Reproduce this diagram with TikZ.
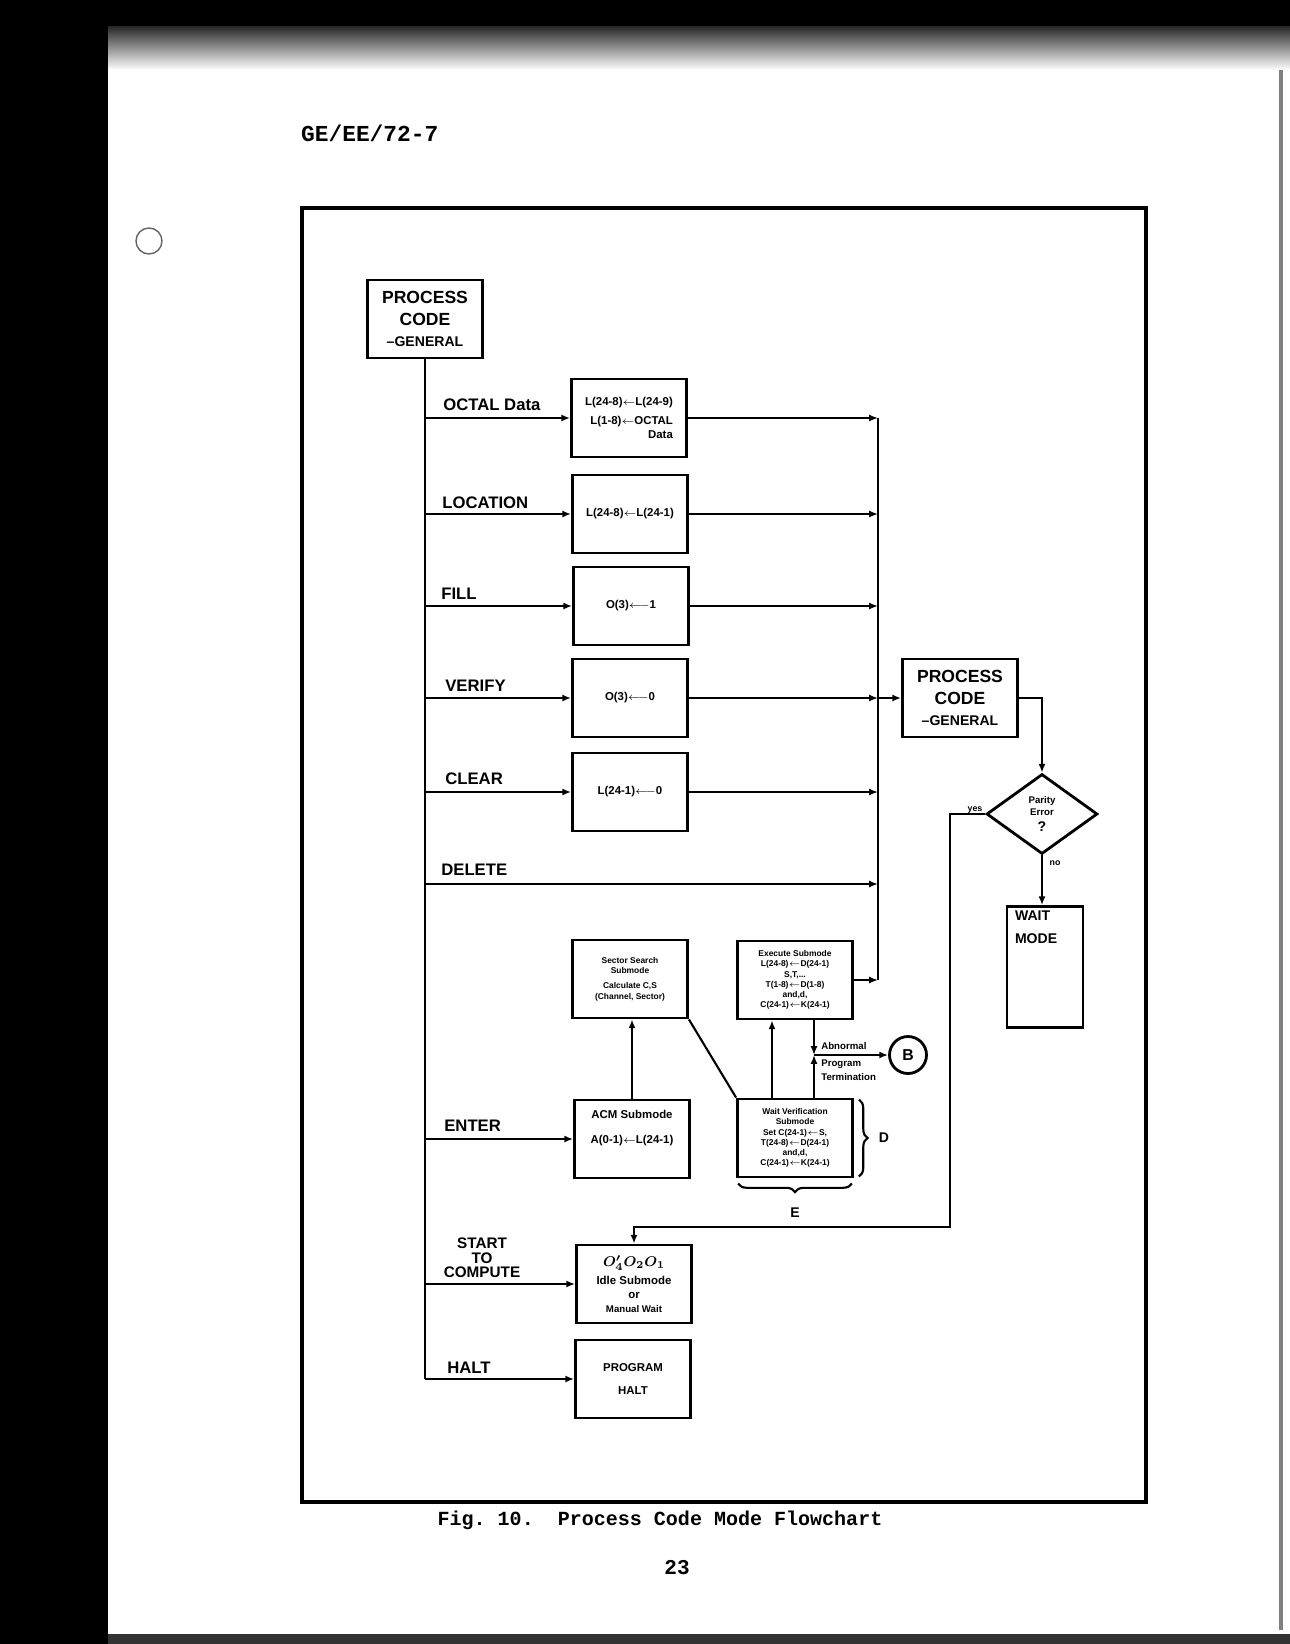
\documentclass[tikz,border=0pt]{standalone}
\usepackage{fontspec}
\setmainfont{Liberation Sans}
\setmonofont{Liberation Mono}
\usepackage{amsmath}
\usetikzlibrary{calc,positioning,shapes.geometric,arrows.meta,decorations.pathreplacing}

\begin{document}
\begin{tikzpicture}[x=0.02cm,y=-0.02cm,
    blk/.style={draw,line width=1.6pt,minimum width=2.3cm,minimum height=1.56cm,inner sep=1pt,align=center,font=\bfseries\fontsize{6.5}{8}\selectfont},
    tiny/.style={font=\bfseries\fontsize{4.8}{5.8}\selectfont},
    lnk/.style={line width=1.2pt},
    arr/.style={lnk,-{Latex[length=5pt,width=4pt]}},
    lbl/.style={anchor=base west,inner sep=0pt,font=\bfseries\fontsize{9.5}{11}\selectfont},
    brc/.style={lnk,decorate,decoration={brace,amplitude=5pt}}]
    \useasboundingbox (0,0) rectangle (1290,1644);
    % scanned page edges
    \fill[white] (0,0) rectangle (1290,1644);
    \shade[top color=black!85,bottom color=white] (108,26) rectangle (1290,70);
    \fill[black] (0,0) rectangle (1290,26);
    \fill[black] (0,0) rectangle (108,1644);
    \fill[black!80] (108,1634) rectangle (1290,1644);
    \draw[black!50,line width=2pt] (1281,70) -- (1281,1630);
    \draw[black!60,line width=0.8pt] (149,241) circle (13);
    % header, frame and caption
    \node[anchor=west,font=\ttfamily\bfseries\fontsize{13}{15}\selectfont] (hdr) at (295,133) {GE/EE/72-7};
    \draw[line width=1.8pt] (302,208) rectangle (1146,1502);
    \node[font=\ttfamily\bfseries\fontsize{11.4}{13}\selectfont] (cap) at (660,1520) {Fig.~10.\ \ Process Code Mode Flowchart};
    \node[font=\ttfamily\bfseries\fontsize{12}{14}\selectfont] (pg) at (677,1568) {23};

    % boxes
    \node[blk,font=\bfseries\fontsize{10}{12}\selectfont] (pcg) at (425,319) {PROCESS\\CODE\\{\fontsize{8}{9}\selectfont --GENERAL}};
    \node[blk,align=right] (oct) at (629,418) {L(24-8)$\leftarrow$L(24-9)\\[3pt]L(1-8)$\leftarrow$OCTAL\\Data};
    \node[blk] (loc) at (630,514) {L(24-8)$\leftarrow$L(24-1)};
    \node[blk] (fil) at (631,606) {O(3)$\longleftarrow$1};
    \node[blk] (vfy) at (630,698) {O(3)$\longleftarrow$0};
    \node[blk] (clr) at (630,792) {L(24-1)$\longleftarrow$0};
    \node[blk,tiny] (sec) at (630,979) {Sector Search\\Submode\\[3pt]Calculate C,S\\(Channel, Sector)};
    \node[blk,tiny] (exe) at (795,980) {Execute Submode\\L(24-8)$\leftarrow$D(24-1)\\S,T,...\\T(1-8)$\leftarrow$D(1-8)\\and,d,\\C(24-1)$\leftarrow$K(24-1)};
    \node[blk] (ent) at (632,1139) {ACM Submode\\[6pt]A(0-1)$\leftarrow$L(24-1)\\[6pt]~};
    \node[blk,tiny] (wvr) at (795,1138) {Wait Verification\\Submode\\Set C(24-1)$\leftarrow$S,\\T(24-8)$\leftarrow$D(24-1)\\and,d,\\C(24-1)$\leftarrow$K(24-1)};
    \node[blk] (stc) at (634,1284) {{\fontsize{8}{9}\selectfont$\boldsymbol{O_4'O_2O_1}$}\\[2pt]Idle Submode\\or\\{\fontsize{5.5}{6}\selectfont Manual Wait}};
    \node[blk] (hlt) at (633,1379) {PROGRAM\\[5pt]HALT};
    \node[blk,font=\bfseries\fontsize{10}{12}\selectfont] (pcg2) at (960,698) {PROCESS\\CODE\\{\fontsize{8}{9}\selectfont --GENERAL}};
    \node[draw,diamond,line width=1.6pt,minimum width=2.22cm,minimum height=1.6cm,inner sep=0pt,align=center,font=\bfseries\fontsize{5.5}{7}\selectfont] (par) at (1042,814) {Parity\\Error\\[2pt]{\fontsize{8}{8}\selectfont ?}};
    \node[blk,minimum width=1.52cm,minimum height=2.42cm,text width=1.2cm,align=left,font=\bfseries\fontsize{8}{9}\selectfont] (wai) at (1045,967) {WAIT\\[4pt]MODE\\[36pt]~};
    \node[draw,circle,line width=1.6pt,minimum size=0.74cm,inner sep=0pt,font=\bfseries\fontsize{9}{10}\selectfont] (b) at (908,1055) {B};

    % branch labels
    \node[lbl] (lo) at (443,410) {OCTAL Data};
    \node[lbl] (ll) at (442,508) {LOCATION};
    \node[lbl] (lf) at (441,599) {FILL};
    \node[lbl] (lv) at (445,691) {VERIFY};
    \node[lbl] (lc) at (445,784) {CLEAR};
    \node[lbl] (ld) at (441,875) {DELETE};
    \node[lbl] (le) at (444,1131) {ENTER};
    \node[font=\bfseries\fontsize{8.7}{8.2}\selectfont,align=center] (ls) at (482,1258) {START\\TO\\COMPUTE};
    \node[lbl] (lh) at (447,1373) {HALT};

    % main and right bus
    \coordinate (rtop) at (878,418);
    \coordinate (rbot) at (878,980);
    \coordinate (del) at (425,884);
    \draw[lnk] (pcg.south) -- (pcg.south |- hlt.west);
    \foreach \n in {oct,loc,fil,vfy,clr,ent,stc,hlt}
        \draw[arr] (pcg.south |- \n.west) -- (\n.west);
    \draw[arr] (del) -- (del -| rtop);
    \foreach \n in {oct,loc,fil,vfy,clr,exe}
        \draw[arr] (\n.east) -- (\n.east -| rtop);
    \draw[lnk] (rtop) -- (rbot);
    \draw[arr] (vfy.east -| rtop) -- (pcg2.west);

    % parity check
    \coordinate (yc) at (950,1227);
    \draw[arr] (pcg2.east) -| (par.north);
    \draw[arr] (par.west) -| (yc) -| (stc.north);
    \draw[arr] (par.south) -- (par.south |- wai.north);
    \node[font=\bfseries\fontsize{5}{6}\selectfont] (ly) at (975,810) {yes};
    \node[font=\bfseries\fontsize{5}{6}\selectfont] (ln) at (1055,863) {no};

    % submodes
    \coordinate (jn) at (814,1055);
    \draw[arr] (ent.north) -- (ent.north |- sec.south);
    \draw[lnk] (sec.south east) -- (wvr.north west);
    \draw[arr] ($(wvr.north)+(-23,0)$) -- ($(exe.south)+(-23,0)$);
    \draw[arr] ($(exe.south)+(19,0)$) -- (jn);
    \draw[arr] ($(wvr.north)+(19,0)$) -- (jn);
    \draw[arr] (jn) -- (b.west);
    \node[anchor=base west,inner sep=0pt,font=\bfseries\fontsize{5.5}{6.5}\selectfont] (lab) at (821,1049) {Abnormal};
    \node[anchor=north west,inner sep=0pt,align=left,font=\bfseries\fontsize{5.5}{8}\selectfont] (lpt) at (821,1059) {Program\\Termination};

    % braces
    \draw[brc] ($(wvr.north east)+(5,2)$) -- ($(wvr.south east)+(5,-2)$);
    \node[font=\bfseries\fontsize{8}{9}\selectfont] (ld2) at (884,1138) {D};
    \draw[brc] ($(wvr.south east)+(-2,5)$) -- ($(wvr.south west)+(2,5)$);
    \node[font=\bfseries\fontsize{8}{9}\selectfont] (le2) at (795,1213) {E};
\end{tikzpicture}
\end{document}
